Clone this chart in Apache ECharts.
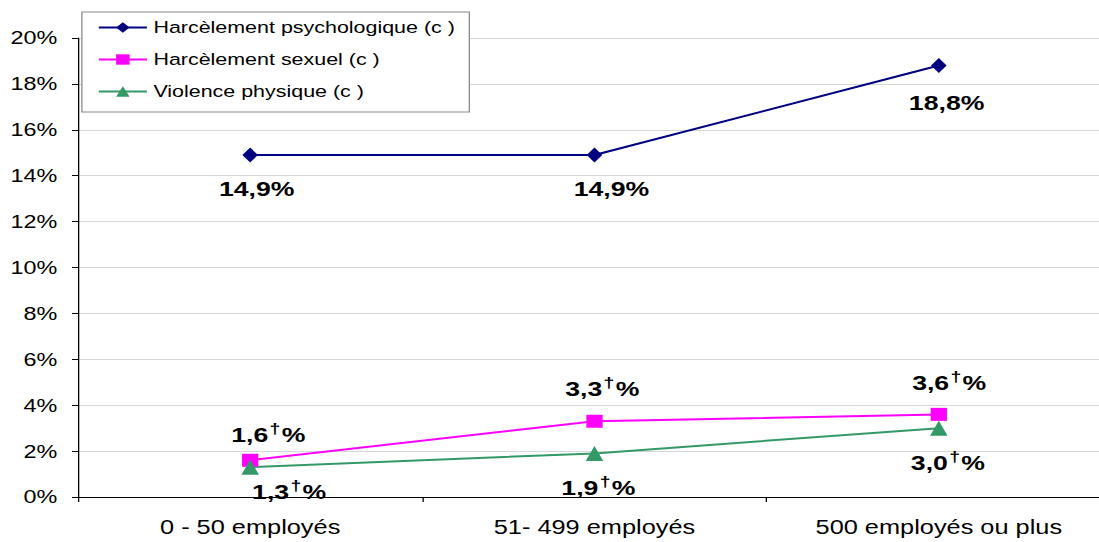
<!DOCTYPE html>
<html><head><meta charset="utf-8">
<script src="https://cdn.jsdelivr.net/npm/echarts@6/dist/echarts.min.js"></script>
<style>
html,body{margin:0;padding:0;background:#fff;overflow:hidden;width:1099px;height:542px}
#c{width:860px;height:542px;transform:scaleX(1.3);transform-origin:0 0}
</style>
</head><body><div id="c"></div>
<script>
var categories = ['0 - 50 employés', '51- 499 employés', '500 employés ou plus'];
var seriesNames = ['Harcèlement psychologique (c )', 'Harcèlement sexuel (c )', 'Violence physique (c )'];
var psycho = [14.9, 14.9, 18.8];
var sexuel = [1.6, 3.3, 3.6];
var violence = [1.3, 1.9, 3.0];
var yTicks = [0, 2, 4, 6, 8, 10, 12, 14, 16, 18, 20];

// label placement (style only): [dx, dy] of label centre from the marker centre
var psychoLabelShift = [[5, 32], [13, 32], [6, 36]];
var sexuelLabelShift = [[14, -27], [6, -34], [8, -33]];
var violenceLabelShift = [[30, 23], [3, 33], [7, 33]];

var font = 'Liberation Sans, Arial, sans-serif';
function fmtNum(v){ return v.toFixed(1).replace('.', ','); }
var rich = {
  a: {fontSize: 20.5, fontWeight: 'bold', color: '#000', fontFamily: font, lineHeight: 24, verticalAlign: 'bottom'},
  s: {fontSize: 15, fontWeight: 'bold', color: '#000', fontFamily: font, lineHeight: 24, verticalAlign: 'top', padding: [0, 1, 8, 1]}
};
function mk(name, values, shifts, color, symbol, size, dagger){
  var data = values.map(function(v, i){
    return {value: v, label: {offset: shifts[i]}};
  });
  return {
    name: name, type: 'line', data: data,
    symbol: symbol, symbolSize: size,
    lineStyle: {color: color, width: 2},
    itemStyle: {color: color},
    label: {
      show: true, position: ['50%', '50%'], align: 'center', verticalAlign: 'middle',
      formatter: function(p){
        return dagger ? '{a|' + fmtNum(p.value) + '}{s|†}{a|%}' : '{a|' + fmtNum(p.value) + '%}';
      },
      rich: rich
    },
    emphasis: {disabled: true},
    z: 3
  };
}
var chart = echarts.init(document.getElementById('c'), null, {renderer: 'svg'});
chart.setOption({
  animation: false,
  grid: {left: 60, top: 38, width: 794.6, height: 459},
  legend: {
    orient: 'vertical', left: 63, top: 12,
    data: seriesNames,
    backgroundColor: '#fff', borderColor: '#8a8a8a', borderWidth: 1,
    padding: [7, 11, 12, 12], itemGap: 15, itemWidth: 37, itemHeight: 13,
    textStyle: {fontSize: 16.5, fontFamily: font, color: '#000'},
    z: 10
  },
  xAxis: {
    type: 'category', data: categories, boundaryGap: true,
    axisLine: {lineStyle: {color: '#000', width: 1}},
    axisTick: {show: true, length: 5, lineStyle: {color: '#000'}},
    axisLabel: {fontSize: 19.5, fontFamily: font, color: '#000', margin: 21}
  },
  yAxis: {
    type: 'value', min: yTicks[0], max: yTicks[yTicks.length - 1], interval: 2,
    axisLine: {show: true, lineStyle: {color: '#000'}},
    axisTick: {show: true, length: 4.6, lineStyle: {color: '#000'}},
    axisLabel: {fontSize: 18, fontFamily: font, color: '#000', margin: 16, formatter: '{value}%'},
    splitLine: {lineStyle: {color: '#d6d6d6', width: 1}}
  },
  series: [
    mk(seriesNames[0], psycho, psychoLabelShift, '#000080', 'diamond', [12, 15], false),
    mk(seriesNames[1], sexuel, sexuelLabelShift, '#ff00ff', 'rect', [12.5, 13], true),
    mk(seriesNames[2], violence, violenceLabelShift, '#339966', 'triangle', [13.5, 15], true)
  ]
});
</script></body></html>
